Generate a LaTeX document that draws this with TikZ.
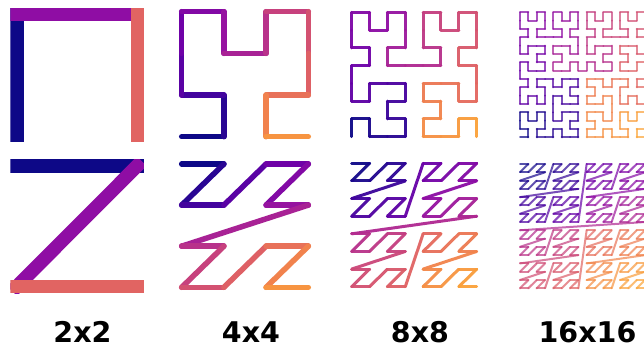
\documentclass[tikz,border=0pt]{standalone}
\usepackage{fontspec}
\newfontfamily\labelfont{DejaVu Sans}
\definecolor{pl0}{HTML}{0D0887}
\definecolor{pl1}{HTML}{41049D}
\definecolor{pl2}{HTML}{6A00A8}
\definecolor{pl3}{HTML}{8F0DA4}
\definecolor{pl4}{HTML}{B12A90}
\definecolor{pl5}{HTML}{CC4778}
\definecolor{pl6}{HTML}{E16462}
\definecolor{pl7}{HTML}{F2844B}
\definecolor{pl8}{HTML}{FCA636}
\definecolor{pl9}{HTML}{FCCE25}
\definecolor{pl10}{HTML}{F0F921}
\newcount\hT \newcount\hS \newcount\hRX \newcount\hRY \newcount\hTmp
\newcount\pX \newcount\pY
\newcount\cT \newcount\cI \newcount\cF
\def\colscale{800}
% Hilbert curve: index d -> (pX,pY), pY counted from the top
\def\Hpt#1#2{%
  \hT=#2\relax \pX=0\relax \pY=0\relax \hS=1\relax
  \loop\ifnum\hS<#1\relax
    \hTmp=\hT\relax \divide\hTmp by 2\relax
    \hRX=\hTmp\relax \divide\hRX by 2\relax \multiply\hRX by -2\relax \advance\hRX by \hTmp\relax
    \hRY=\numexpr\hT+\hRX\relax
    \hTmp=\hRY\relax \divide\hTmp by 2\relax \multiply\hTmp by -2\relax \advance\hRY by \hTmp\relax
    \ifnum\hRY=0\relax
      \ifnum\hRX=1\relax
        \pX=\numexpr\hS-1-\pX\relax
        \pY=\numexpr\hS-1-\pY\relax
      \fi
      \hTmp=\pX\relax \pX=\pY\relax \pY=\hTmp\relax
    \fi
    \advance\pX by \numexpr\hS*\hRX\relax
    \advance\pY by \numexpr\hS*\hRY\relax
    \divide\hT by 4\relax
    \multiply\hS by 2\relax
  \repeat
  \pY=\numexpr#1-1-\pY\relax}
% Z-order (Morton) curve: index d -> (pX,pY), pY counted from the top
\def\Zpt#1#2{%
  \hT=#2\relax \pX=0\relax \pY=0\relax \hS=1\relax
  \loop\ifnum\hT>0\relax
    \hTmp=\hT\relax \divide\hTmp by 2\relax \multiply\hTmp by -2\relax \advance\hTmp by \hT\relax
    \advance\pX by \numexpr\hS*\hTmp\relax
    \divide\hT by 2\relax
    \hTmp=\hT\relax \divide\hTmp by 2\relax \multiply\hTmp by -2\relax \advance\hTmp by \hT\relax
    \advance\pY by \numexpr\hS*\hTmp\relax
    \divide\hT by 2\relax
    \multiply\hS by 2\relax
  \repeat}
% plasma colour for segment k of nseg
\def\setsegcolor#1#2{%
  \cT=\numexpr \colscale*#1\relax \divide\cT by #2\relax
  \cI=\cT\relax \divide\cI by 100\relax
  \cF=\numexpr\cT-100*\cI\relax
  \edef\cA{pl\the\cI}\edef\cB{pl\the\numexpr\cI+1\relax}%
  \edef\tmpcol{\noexpand\colorlet{segcol}{\cB!\the\cF!\cA}}\tmpcol}
\tikzset{
  curveseg/.style={line join=round},
  labeltext/.style={font=\labelfont\bfseries\fontsize{28.5}{34}\selectfont, anchor=base, inner sep=0pt}
}
% type, n, x0, x1, y0, y1, line width, cap, opacity
\newcommand\curvepanel[9]{%
  \begin{scope}
    \clip ({#3-#7/2},{#5-#7/2}) rectangle ({#4+#7/2},{#6+#7/2});
    \pgfmathtruncatemacro\nlast{#2*#2-2}%
    \pgfmathtruncatemacro\nseg{#2*#2-1}%
    \foreach \k in {0,...,\nlast}{%
      \csname #1pt\endcsname{#2}{\k}%
      \pgfmathsetmacro\Xa{#3+(#4-#3)*\the\pX/(#2-1)}%
      \pgfmathsetmacro\Ya{#5+(#6-#5)*\the\pY/(#2-1)}%
      \csname #1pt\endcsname{#2}{\numexpr\k+1\relax}%
      \pgfmathsetmacro\Xb{#3+(#4-#3)*\the\pX/(#2-1)}%
      \pgfmathsetmacro\Yb{#5+(#6-#5)*\the\pY/(#2-1)}%
      \setsegcolor{\k}{\nseg}%
      \draw[curveseg, line width=#7pt, line cap=#8, draw=segcol, draw opacity=#9] (\Xa,\Ya) -- (\Xb,\Yb);
    }%
  \end{scope}}
\begin{document}
\begin{tikzpicture}[x=1pt, y=-1pt]
  \useasboundingbox (0,0) rectangle (644,347);
  \fill[white] (0,0) rectangle (644,347);
  % Hilbert row
  \def\colscale{900}
  \curvepanel{H}{2}{17}{137.5}{14.5}{135.25}{13.5}{rect}{1}
  \def\colscale{800}
  \curvepanel{H}{4}{181.7}{308.3}{11.7}{136.7}{5.5}{round}{1}
  \curvepanel{H}{8}{351.7}{476.7}{12.3}{136.7}{3}{round}{0.95}
  \curvepanel{H}{16}{520}{645}{12.3}{137.3}{2}{round}{0.7}
  % Z-order row
  \def\colscale{900}
  \curvepanel{Z}{2}{17}{137}{166}{286.3}{13.5}{rect}{1}
  \def\colscale{800}
  \curvepanel{Z}{4}{181.7}{308.3}{164}{287.3}{5.5}{round}{1}
  \curvepanel{Z}{8}{351.7}{476.7}{163.3}{286.7}{3}{round}{0.95}
  \curvepanel{Z}{16}{520}{645}{164}{288.3}{2}{round}{0.7}
  % labels
  \node[labeltext] (lab2)  at (82.5,342.2)  {2x2};
  \node[labeltext] (lab4)  at (251,342.2)   {4x4};
  \node[labeltext] (lab8)  at (420,342.2)   {8x8};
  \node[labeltext] (lab16) at (587.5,342.2) {16x16};
\end{tikzpicture}
\end{document}
